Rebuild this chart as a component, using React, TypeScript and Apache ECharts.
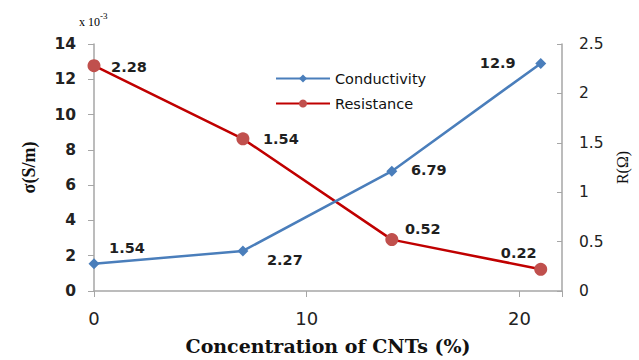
import React, { useEffect, useRef } from "react";
import * as echarts from "echarts";

const concentrations = [0, 7, 14, 21];
const conductivity = [1.54, 2.27, 6.79, 12.9];
const resistance = [2.28, 1.54, 0.52, 0.22];
const condLabels = ["1.54", "2.27", "6.79", "12.9"];
const resLabels = ["2.28", "1.54", "0.52", "0.22"];
const condOffsets = [[33, -16], [42, 9], [37, -1], [-43, 0]];
const resOffsets = [[35, 1], [38, 0], [31, -11], [-22, -16]];

const sans = "'DejaVu Sans', sans-serif";
const serif = "'Liberation Serif', 'DejaVu Serif', serif";

export default function App() {
  const ref = useRef<HTMLDivElement>(null);
  useEffect(() => {
    const chart = echarts.init(ref.current!, null, { renderer: "svg" });
    const mk = (ys: number[], labels: string[], offs: number[][]) =>
      ys.map((y, i) => ({
        value: [concentrations[i], y],
        label: {
          show: true,
          position: "inside",
          offset: offs[i],
          formatter: labels[i],
          fontFamily: sans,
          fontWeight: "bold",
          fontSize: 14.5,
          color: "#1f1f1f",
        },
      }));
    chart.setOption({
      animation: false,
      backgroundColor: "#ffffff",
      grid: { left: 94, right: 77, top: 44, bottom: 61 },
      legend: {
        orient: "vertical",
        left: 270,
        top: 66,
        itemWidth: 54,
        itemHeight: 10,
        itemGap: 10,
        textStyle: { fontFamily: sans, fontSize: 14.5, color: "#111" },
        data: ["Conductivity", "Resistance"],
      },
      graphic: [
        {
          type: "text",
          left: 79,
          top: 11,
          style: {
            text: "{a|x 10}{b|-3}",
            rich: {
              a: { fontFamily: serif, fontSize: 12, color: "#333", padding: [5, 0, 0, 0] },
              b: { fontFamily: serif, fontSize: 9, color: "#333", verticalAlign: "top" },
            },
          },
        },
      ],
      xAxis: {
        type: "value",
        min: 0,
        max: 22,
        interval: 10,
        name: "Concentration of CNTs (%)",
        nameLocation: "middle",
        nameGap: 45,
        nameTextStyle: { fontFamily: "'DejaVu Serif', serif", fontWeight: "bold", fontSize: 19, color: "#111" },
        axisLine: { lineStyle: { color: "#a6a6a6", width: 1.5 } },
        axisTick: { show: true, length: 6, lineStyle: { color: "#a6a6a6" } },
        axisLabel: {
          margin: 18,
          fontFamily: sans,
          fontSize: 18,
          color: "#222",
          formatter: (v: number) => (v % 10 === 0 ? String(v) : ""),
        },
        splitLine: { show: false },
      },
      yAxis: [
        {
          type: "value",
          min: 0,
          max: 14,
          interval: 2,
          position: "left",
          name: "σ(S/m)",
          nameLocation: "middle",
          nameGap: 56,
          nameRotate: 90,
          nameTextStyle: { fontFamily: serif, fontWeight: "bold", fontSize: 18, color: "#111" },
          axisLine: { show: true, lineStyle: { color: "#a6a6a6", width: 1.5 } },
          axisTick: { show: true, length: 6, lineStyle: { color: "#a6a6a6" } },
          axisLabel: { margin: 18, fontFamily: sans, fontWeight: "bold", fontSize: 15.5, color: "#222" },
          splitLine: { show: false },
        },
        {
          type: "value",
          min: 0,
          max: 2.5,
          interval: 0.5,
          position: "right",
          name: "R(Ω)",
          nameLocation: "middle",
          nameGap: 52,
          nameRotate: 90,
          nameTextStyle: { fontFamily: serif, fontSize: 16, color: "#111" },
          axisLine: { show: true, lineStyle: { color: "#a6a6a6", width: 1.5 } },
          axisTick: { show: true, inside: true, length: 5, lineStyle: { color: "#a6a6a6" } },
          axisLabel: { margin: 17, fontFamily: sans, fontSize: 15.5, color: "#222" },
          splitLine: { show: false },
        },
      ],
      series: [
        {
          name: "Conductivity",
          type: "line",
          yAxisIndex: 0,
          symbol: "diamond",
          symbolSize: 11,
          lineStyle: { color: "#4a7ebb", width: 2.5 },
          itemStyle: { color: "#4a7ebb" },
          data: mk(conductivity, condLabels, condOffsets),
          z: 3,
        },
        {
          name: "Resistance",
          type: "line",
          yAxisIndex: 1,
          symbol: "circle",
          symbolSize: 13,
          lineStyle: { color: "#c00000", width: 2.5 },
          itemStyle: { color: "#c0504d" },
          data: mk(resistance, resLabels, resOffsets),
          z: 2,
        },
      ],
    });
    return () => chart.dispose();
  }, []);
  return <div ref={ref} style={{ width: 639, height: 360, position: "absolute", left: 0, top: 0 }} />;
}
